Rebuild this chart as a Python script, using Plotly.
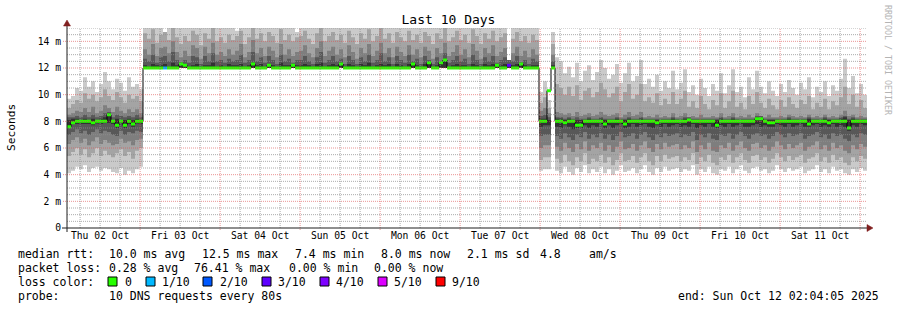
import pandas as pd
import plotly.graph_objects as go

# ---------------- data (ms), one value per ~72 min column ----------------
median_ms = [
    7.6, 7.9, 8.0, 8.0, 8.0, 8.0, 7.9, 8.0, 8.0, 8.0,
    8.5, 8.0, 7.7, 8.0, 7.7, 8.0, 7.8, 8.0, 8.0,
    12.0, 12.0, 12.0, 12.0, 12.0, 12.0, 12.0, 12.0, 12.0, 12.3,
    12.2, 12.0, 12.0, 12.0, 12.0, 12.0, 12.0, 12.0, 12.0, 12.0,
    12.0, 12.0, 12.0, 12.0, 12.0, 12.0, 12.0, 12.3, 12.0, 12.0,
    12.0, 12.2, 12.0, 12.0, 12.0, 12.0, 12.0, 12.2, 12.0, 12.0,
    12.0, 12.0, 12.0, 12.0, 12.0, 12.0, 12.0, 12.0, 12.0, 12.3,
    12.0, 12.0, 12.0, 12.0, 12.0, 12.0, 12.0, 12.0, 12.0, 12.0,
    12.0, 12.0, 12.0, 12.0, 12.0, 12.0, 12.0, 12.3, 12.0, 12.0,
    12.0, 12.4, 12.0, 12.0, 12.4, 12.6, 12.0, 12.0, 12.0, 12.0,
    12.0, 12.0, 12.0, 12.0, 12.0, 12.0, 12.0, 12.0, 12.2, 12.0,
    12.0, 12.2, 12.0, 12.0, 12.3, 12.0, 12.0, 12.0, 12.0,
    8.0, 8.0, 10.3, 12.0,
    8.0, 8.0, 7.9, 8.0, 8.0, 7.7, 7.7, 8.0, 8.0, 8.0,
    8.0, 8.0, 7.8, 8.0, 8.0, 8.0, 8.0, 7.8, 8.0, 8.0,
    8.0, 8.0, 8.0, 8.0, 8.0, 7.9, 8.0, 8.0, 8.0, 8.0,
    8.0, 8.0, 8.0, 8.1, 8.0, 8.0, 8.0, 8.0, 8.0, 8.0,
    7.7, 8.0, 8.0, 8.0, 8.0, 8.0, 8.0, 8.0, 8.0, 8.0,
    8.2, 8.2, 8.0, 7.9, 7.9, 8.0, 8.0, 8.0, 8.0, 8.0,
    8.0, 8.0, 8.0, 7.8, 8.0, 8.0, 8.0, 8.0, 7.9, 8.0,
    8.0, 8.0, 8.0, 7.5, 8.0, 8.0, 8.0, 8.0,
]

# lost pings per column (out of 10)
loss = [
    0, 0, 0, 0, 0, 0, 0, 0, 0, 0,
    0, 0, 0, 0, 0, 0, 0, 0, 0,
    0, 0, 0, 0, 0, 1, 0, 0, 0, 0,
    0, 0, 0, 0, 0, 0, 0, 0, 0, 0,
    0, 0, 0, 0, 0, 0, 0, 0, 0, 0,
    0, 0, 0, 0, 0, 0, 0, 0, 0, 0,
    0, 0, 0, 0, 0, 0, 0, 0, 0, 0,
    0, 0, 0, 0, 0, 0, 0, 0, 0, 0,
    0, 0, 0, 0, 0, 0, 0, 0, 0, 0,
    0, 0, 0, 0, 0, 0, 0, 0, 0, 0,
    0, 0, 0, 0, 0, 0, 0, 0, 0, 0,
    0, 3, 0, 0, 0, 0, 0, 0, 0,
    0, 0, 0, 0,
    0, 0, 0, 0, 0, 0, 0, 0, 0, 0,
    0, 0, 0, 0, 0, 0, 0, 0, 0, 0,
    0, 0, 0, 0, 0, 0, 0, 0, 0, 0,
    0, 0, 0, 0, 0, 0, 0, 0, 0, 0,
    0, 0, 0, 0, 0, 0, 0, 0, 0, 0,
    0, 0, 0, 0, 0, 0, 0, 0, 0, 0,
    0, 0, 0, 0, 0, 0, 0, 0, 0, 0,
    0, 0, 0, 0, 0, 0, 0, 0,
]

# sorted pings (ping01 = fastest ... ping10 = slowest)
ping10 = [
    9.7, 9.9, 10.5, 10.3, 11.3, 10.6, 11.0, 10.2, 10.8, 11.7,
    11.0, 10.4, 11.2, 10.9, 10.3, 11.3, 10.6, 10.8, 10.4,
    15.6, 15.3, 15.8, 15.2, 15.5, None, 15.4, 15.9, 15.3, 15.1,
    15.5, 15.2, 15.7, 15.4, 15.0, 15.6, 15.3, 15.8, 15.2, 15.4,
    15.1, 15.5, 15.3, 14.8, 15.6, 15.2, 15.4, 15.9, 15.3, 15.5,
    15.2, 15.6, 15.4, 15.1, 15.7, 15.3, 15.5, 15.2, 14.7, 15.4,
    15.6, 15.3, 15.1, 15.5, 15.8, 15.2, 15.4, 15.6, 15.3, 15.5,
    15.2, 15.7, 15.4, 15.1, 15.5, 15.3, 15.6, 15.2, 15.4, 15.8,
    15.3, 15.5, 15.1, 15.6, 15.4, 15.2, 15.7, 15.3, 15.5, 15.2,
    15.6, 15.4, 15.1, 15.5, 15.3, 15.8, 15.2, 15.4, 15.6, 15.3,
    15.5, 15.2, 15.7, 15.4, 15.1, 15.5, 15.3, 15.6, 15.2, 15.4,
    15.5, None, 15.3, 15.6, 15.2, 15.4, 15.1, 15.5, 15.3,
    10.2, 11.0, 9.6, 14.7,
    12.8, 12.5, 11.6, 12.1, 11.3, 12.4, 11.0, 11.8, 12.2, 11.1,
    11.7, 12.6, 12.0, 11.2, 11.5, 12.3, 10.9, 11.6, 12.4, 11.0,
    11.4, 12.6, 10.8, 11.2, 10.6, 11.5, 10.3, 11.0, 10.5, 11.8,
    10.4, 10.9, 11.9, 10.2, 10.7, 10.0, 11.2, 10.5, 9.9, 10.8,
    10.3, 11.6, 10.1, 10.7, 11.9, 10.2, 10.6, 9.8, 11.3, 10.4,
    11.8, 10.6, 10.1, 11.0, 10.3, 9.9, 10.8, 10.2, 11.1, 10.5,
    10.0, 10.9, 10.4, 11.3, 9.8, 10.6, 10.2, 11.0, 9.9, 10.7,
    10.3, 11.2, 12.7, 10.5, 11.4, 10.1, 10.8, 10.0,
]
ping09 = [
    9.0, 9.3, 9.6, 9.4, 10.1, 9.7, 10.0, 9.5, 9.8, 10.4,
    9.9, 9.6, 10.2, 9.8, 9.4, 10.0, 9.7, 9.9, 9.5,
    14.6, 14.2, 14.9, 13.9, 14.5, 14.7, 14.1, 15.1, 14.3, 13.8,
    14.4, 14.0, 14.8, 14.5, 13.7, 14.6, 14.2, 15.0, 14.0, 14.3,
    13.9, 14.5, 14.1, 14.4, 14.8, 13.8, 14.3, 15.2, 14.2, 14.6,
    14.0, 14.7, 14.4, 13.9, 14.9, 14.1, 14.5, 14.0, 14.3, 14.4,
    14.8, 14.2, 13.8, 14.6, 15.1, 14.0, 14.4, 14.7, 14.1, 14.5,
    13.9, 14.8, 14.3, 13.8, 14.6, 14.2, 14.9, 14.0, 14.4, 15.0,
    14.2, 14.6, 13.9, 14.7, 14.3, 14.0, 14.8, 14.1, 14.5, 13.9,
    14.7, 14.4, 13.8, 14.6, 14.2, 15.0, 14.0, 14.3, 14.8, 14.1,
    14.5, 13.9, 14.9, 14.4, 13.8, 14.6, 14.2, 14.8, 14.0, 14.3,
    14.6, None, 14.2, 14.7, 14.0, 14.4, 13.9, 14.5, 14.1,
    9.4, 9.8, 9.0, 13.8,
    10.8, 10.5, 10.0, 10.6, 9.9, 10.7, 9.6, 10.3, 10.5, 9.8,
    10.2, 10.9, 10.4, 9.8, 10.1, 10.6, 9.5, 10.2, 10.8, 9.7,
    10.0, 10.8, 9.5, 9.8, 9.4, 10.1, 9.2, 9.7, 9.3, 10.2,
    9.3, 9.7, 10.3, 9.1, 9.5, 9.0, 9.9, 9.3, 8.9, 9.6,
    9.2, 10.1, 9.0, 9.5, 10.3, 9.1, 9.4, 8.9, 9.9, 9.3,
    10.2, 9.4, 9.0, 9.7, 9.2, 8.9, 9.6, 9.1, 9.8, 9.3,
    9.0, 9.6, 9.3, 9.9, 8.9, 9.4, 9.1, 9.7, 8.9, 9.5,
    9.2, 9.8, 10.6, 9.3, 10.0, 9.1, 9.6, 9.0,
]
ping08 = [
    8.5, 8.6, 8.8, 8.7, 9.0, 8.7, 9.1, 8.6, 8.8, 9.2,
    9.0, 8.7, 9.1, 8.8, 8.6, 8.9, 8.7, 8.9, 8.6,
    13.4, 13.0, 13.8, 12.9, 13.5, 13.6, 13.1, 14.0, 13.2, 12.8,
    13.3, 12.9, 13.7, 13.5, 12.7, 13.6, 13.1, 13.9, 13.0, 13.2,
    12.9, 13.4, 13.0, 13.3, 13.8, 12.8, 13.2, 14.1, 13.1, 13.5,
    12.9, 13.6, 13.3, 12.8, 13.8, 13.0, 13.4, 12.9, 13.2, 13.3,
    13.7, 13.1, 12.8, 13.5, 14.0, 12.9, 13.3, 13.6, 13.0, 13.4,
    12.8, 13.7, 13.2, 12.7, 13.5, 13.1, 13.8, 12.9, 13.3, 13.9,
    13.1, 13.5, 12.8, 13.6, 13.2, 12.9, 13.7, 13.0, 13.4, 12.8,
    13.6, 13.3, 12.7, 13.5, 13.1, 13.9, 12.9, 13.2, 13.7, 13.0,
    13.4, 12.8, 13.8, 13.3, 12.7, 13.5, 13.1, 13.7, 12.9, 13.2,
    13.5, None, 13.1, 13.6, 12.9, 13.3, 12.8, 13.4, 13.0,
    8.8, 9.0, 8.6, 13.0,
    8.7, 8.6, 8.5, 8.6, 8.4, 8.7, 8.4, 8.5, 8.6, 8.4,
    8.5, 8.7, 8.5, 8.4, 8.5, 8.6, 8.3, 8.5, 8.7, 8.4,
    8.5, 8.7, 8.3, 8.4, 8.3, 8.5, 8.3, 8.4, 8.3, 8.6,
    8.3, 8.4, 8.6, 8.3, 8.4, 8.3, 8.5, 8.3, 8.3, 8.4,
    8.3, 8.6, 8.3, 8.4, 8.6, 8.3, 8.4, 8.3, 8.5, 8.3,
    8.6, 8.4, 8.3, 8.5, 8.3, 8.3, 8.4, 8.3, 8.5, 8.4,
    8.3, 8.4, 8.3, 8.5, 8.3, 8.4, 8.3, 8.5, 8.3, 8.4,
    8.3, 8.5, 8.8, 8.4, 8.5, 8.3, 8.4, 8.3,
]
ping07 = [
    8.3, 8.3, 8.4, 8.3, 8.5, 8.3, 8.5, 8.3, 8.4, 8.6,
    8.7, 8.3, 8.5, 8.4, 8.3, 8.4, 8.3, 8.5, 8.3,
    12.7, 12.5, 13.0, 12.4, 12.8, 12.9, 12.5, 13.2, 12.6, 12.4,
    12.6, 12.4, 12.9, 12.8, 12.3, 12.9, 12.5, 13.1, 12.5, 12.6,
    12.4, 12.7, 12.5, 12.6, 13.0, 12.4, 12.6, 13.2, 12.5, 12.8,
    12.4, 12.9, 12.6, 12.3, 13.0, 12.5, 12.7, 12.4, 12.6, 12.6,
    12.9, 12.5, 12.3, 12.8, 13.2, 12.4, 12.6, 12.9, 12.5, 12.7,
    12.3, 12.9, 12.6, 12.3, 12.8, 12.5, 13.0, 12.4, 12.6, 13.1,
    12.5, 12.8, 12.3, 12.9, 12.6, 12.4, 13.0, 12.5, 12.7, 12.3,
    12.9, 12.6, 12.3, 12.8, 12.5, 13.1, 12.4, 12.6, 12.9, 12.5,
    12.7, 12.3, 13.0, 12.6, 12.3, 12.8, 12.5, 12.9, 12.4, 12.6,
    12.8, 12.6, 12.5, 12.9, 12.4, 12.6, 12.3, 12.7, 12.5,
    8.4, 8.5, 8.3, 12.5,
    8.3, 8.3, 8.2, 8.3, 8.2, 8.3, 8.2, 8.2, 8.3, 8.2,
    8.2, 8.3, 8.2, 8.2, 8.2, 8.3, 8.2, 8.2, 8.3, 8.2,
    8.2, 8.3, 8.2, 8.2, 8.2, 8.2, 8.2, 8.2, 8.2, 8.3,
    8.2, 8.2, 8.3, 8.3, 8.2, 8.2, 8.2, 8.2, 8.2, 8.2,
    8.2, 8.3, 8.2, 8.2, 8.3, 8.2, 8.2, 8.2, 8.2, 8.2,
    8.4, 8.4, 8.2, 8.2, 8.2, 8.2, 8.2, 8.2, 8.3, 8.2,
    8.2, 8.2, 8.2, 8.3, 8.2, 8.2, 8.2, 8.3, 8.2, 8.2,
    8.2, 8.3, 8.4, 8.2, 8.3, 8.2, 8.2, 8.2,
]
ping06 = [
    8.1, 8.2, 8.2, 8.1, 8.2, 8.1, 8.2, 8.1, 8.2, 8.3,
    8.6, 8.1, 8.2, 8.1, 8.1, 8.2, 8.1, 8.2, 8.1,
    12.2, 12.1, 12.3, 12.2, 12.2, 12.3, 12.1, 12.4, 12.2, 12.4,
    12.3, 12.1, 12.2, 12.3, 12.1, 12.2, 12.2, 12.4, 12.1, 12.2,
    12.1, 12.3, 12.2, 12.2, 12.3, 12.1, 12.2, 12.4, 12.2, 12.3,
    12.1, 12.3, 12.2, 12.1, 12.4, 12.2, 12.2, 12.3, 12.2, 12.2,
    12.3, 12.2, 12.1, 12.3, 12.4, 12.1, 12.2, 12.3, 12.2, 12.4,
    12.1, 12.3, 12.2, 12.1, 12.3, 12.2, 12.4, 12.1, 12.2, 12.3,
    12.2, 12.3, 12.1, 12.3, 12.2, 12.1, 12.3, 12.4, 12.2, 12.1,
    12.3, 12.5, 12.1, 12.2, 12.5, 12.7, 12.1, 12.2, 12.3, 12.2,
    12.2, 12.1, 12.3, 12.2, 12.1, 12.3, 12.2, 12.3, 12.3, 12.2,
    12.3, 12.3, 12.2, 12.3, 12.4, 12.2, 12.1, 12.2, 12.2,
    8.2, 8.2, 8.1, 12.2,
    8.2, 8.2, 8.1, 8.2, 8.1, 8.1, 8.1, 8.1, 8.2, 8.1,
    8.1, 8.2, 8.1, 8.1, 8.1, 8.2, 8.1, 8.1, 8.2, 8.1,
    8.1, 8.2, 8.1, 8.1, 8.1, 8.1, 8.1, 8.1, 8.1, 8.2,
    8.1, 8.1, 8.2, 8.2, 8.1, 8.1, 8.1, 8.1, 8.1, 8.1,
    8.1, 8.2, 8.1, 8.1, 8.2, 8.1, 8.1, 8.1, 8.1, 8.1,
    8.3, 8.3, 8.1, 8.1, 8.1, 8.1, 8.1, 8.1, 8.2, 8.1,
    8.1, 8.1, 8.1, 8.2, 8.1, 8.1, 8.1, 8.2, 8.1, 8.1,
    8.1, 8.2, 8.3, 8.1, 8.2, 8.1, 8.1, 8.1,
]
ping05 = [
    7.6, 7.8, 7.85, 7.8, 7.85, 7.8, 7.7, 7.85, 7.8, 7.85,
    7.9, 7.8, 7.5, 7.85, 7.5, 7.8, 7.6, 7.85, 7.8,
    12.0, 12.0, 12.0, 12.0, 12.0, 12.0, 12.0, 12.0, 12.0, 12.0,
    12.0, 12.0, 12.0, 12.0, 12.0, 12.0, 12.0, 12.0, 12.0, 12.0,
    12.0, 12.0, 12.0, 12.0, 12.0, 12.0, 12.0, 12.0, 12.0, 12.0,
    12.0, 12.0, 12.0, 12.0, 12.0, 12.0, 12.0, 12.0, 12.0, 12.0,
    12.0, 12.0, 12.0, 12.0, 12.0, 12.0, 12.0, 12.0, 12.0, 12.0,
    12.0, 12.0, 12.0, 12.0, 12.0, 12.0, 12.0, 12.0, 12.0, 12.0,
    12.0, 12.0, 12.0, 12.0, 12.0, 12.0, 12.0, 12.0, 12.0, 12.0,
    12.0, 12.0, 12.0, 12.0, 12.0, 12.0, 12.0, 12.0, 12.0, 12.0,
    12.0, 12.0, 12.0, 12.0, 12.0, 12.0, 12.0, 12.0, 12.0, 12.0,
    12.0, 12.0, 12.0, 12.0, 12.0, 12.0, 12.0, 12.0, 12.0,
    7.6, 7.7, 7.7, 12.0,
    7.6, 7.5, 7.7, 7.6, 7.4, 7.5, 7.5, 7.7, 7.5, 7.7,
    7.6, 7.8, 7.5, 7.7, 7.5, 7.7, 7.8, 7.5, 7.6, 7.8,
    7.6, 7.7, 7.8, 7.6, 7.5, 7.7, 7.6, 7.8, 7.6, 7.7,
    7.8, 7.6, 7.7, 7.6, 7.8, 7.5, 7.7, 7.6, 7.8, 7.6,
    7.5, 7.7, 7.6, 7.8, 7.6, 7.7, 7.8, 7.6, 7.6, 7.7,
    7.8, 7.6, 7.7, 7.6, 7.6, 7.8, 7.7, 7.6, 7.8, 7.6,
    7.7, 7.8, 7.6, 7.6, 7.7, 7.8, 7.6, 7.7, 7.6, 7.8,
    7.6, 7.7, 7.6, 7.3, 7.7, 7.6, 7.8, 7.7,
]
ping04 = [
    7.0, 7.2, 7.4, 7.1, 7.3, 7.0, 7.2, 7.4, 7.1, 7.3,
    7.2, 7.0, 6.9, 7.3, 7.0, 7.2, 7.1, 7.3, 7.2,
    12.0, 12.0, 12.0, 12.0, 12.0, 12.0, 12.0, 12.0, 12.0, 12.0,
    12.0, 12.0, 12.0, 12.0, 12.0, 12.0, 12.0, 12.0, 12.0, 12.0,
    12.0, 12.0, 12.0, 12.0, 12.0, 12.0, 12.0, 12.0, 12.0, 12.0,
    12.0, 12.0, 12.0, 12.0, 12.0, 12.0, 12.0, 12.0, 12.0, 12.0,
    12.0, 12.0, 12.0, 12.0, 12.0, 12.0, 12.0, 12.0, 12.0, 12.0,
    12.0, 12.0, 12.0, 12.0, 12.0, 12.0, 12.0, 12.0, 12.0, 12.0,
    12.0, 12.0, 12.0, 12.0, 12.0, 12.0, 12.0, 12.0, 12.0, 12.0,
    12.0, 12.0, 12.0, 12.0, 12.0, 12.0, 12.0, 12.0, 12.0, 12.0,
    12.0, 12.0, 12.0, 12.0, 12.0, 12.0, 12.0, 12.0, 12.0, 12.0,
    12.0, 12.0, 12.0, 12.0, 12.0, 12.0, 12.0, 12.0, 12.0,
    6.9, 7.0, 7.0, 12.0,
    6.9, 6.7, 7.1, 6.8, 6.6, 7.0, 6.8, 7.2, 6.7, 7.0,
    6.8, 7.1, 6.7, 7.0, 6.6, 6.9, 7.2, 6.8, 6.9, 7.1,
    6.7, 7.0, 7.2, 6.8, 6.6, 7.0, 6.8, 7.1, 6.9, 7.0,
    7.1, 6.8, 7.0, 6.9, 7.2, 6.6, 7.0, 6.8, 7.1, 6.7,
    6.6, 7.0, 6.9, 7.1, 6.7, 7.0, 7.2, 6.9, 6.7, 7.0,
    7.1, 6.9, 7.0, 6.7, 6.9, 7.2, 7.0, 6.8, 7.1, 6.9,
    7.0, 7.1, 6.7, 6.9, 7.0, 7.2, 6.8, 7.0, 6.7, 7.1,
    6.9, 7.0, 6.7, 6.5, 7.0, 6.8, 7.1, 7.0,
]
ping03 = [
    6.3, 6.6, 6.8, 6.4, 6.7, 6.2, 6.5, 6.8, 6.3, 6.6,
    6.4, 6.2, 6.3, 6.7, 6.4, 6.5, 6.2, 6.6, 6.7,
    12.0, 12.0, 12.0, 12.0, 12.0, 12.0, 12.0, 12.0, 12.0, 12.0,
    12.0, 12.0, 12.0, 12.0, 12.0, 12.0, 12.0, 12.0, 12.0, 12.0,
    12.0, 12.0, 12.0, 12.0, 12.0, 12.0, 12.0, 12.0, 12.0, 12.0,
    12.0, 12.0, 12.0, 12.0, 12.0, 12.0, 12.0, 12.0, 12.0, 12.0,
    12.0, 12.0, 12.0, 12.0, 12.0, 12.0, 12.0, 12.0, 12.0, 12.0,
    12.0, 12.0, 12.0, 12.0, 12.0, 12.0, 12.0, 12.0, 12.0, 12.0,
    12.0, 12.0, 12.0, 12.0, 12.0, 12.0, 12.0, 12.0, 12.0, 12.0,
    12.0, 12.0, 12.0, 12.0, 12.0, 12.0, 12.0, 12.0, 12.0, 12.0,
    12.0, 12.0, 12.0, 12.0, 12.0, 12.0, 12.0, 12.0, 12.0, 12.0,
    12.0, 12.0, 12.0, 12.0, 12.0, 12.0, 12.0, 12.0, 12.0,
    6.0, 6.2, 6.2, 12.0,
    6.1, 5.8, 6.4, 6.0, 5.7, 6.3, 5.9, 6.5, 5.8, 6.2,
    6.0, 6.4, 5.8, 6.2, 5.7, 6.1, 6.5, 5.9, 6.0, 6.3,
    5.8, 6.2, 6.5, 6.0, 5.7, 6.3, 5.9, 6.4, 6.1, 6.2,
    6.3, 5.9, 6.2, 6.0, 6.5, 5.7, 6.2, 5.9, 6.4, 5.8,
    5.7, 6.2, 6.0, 6.4, 5.8, 6.2, 6.5, 6.0, 5.8, 6.3,
    6.4, 6.0, 6.2, 5.8, 6.1, 6.5, 6.2, 5.9, 6.3, 6.0,
    6.2, 6.4, 5.8, 6.1, 6.2, 6.5, 5.9, 6.2, 5.8, 6.4,
    6.0, 6.2, 5.8, 5.6, 6.2, 5.9, 6.3, 6.1,
]
ping02 = [
    5.4, 5.7, 6.0, 5.5, 5.9, 5.3, 5.6, 6.0, 5.4, 5.8,
    5.5, 5.3, 5.6, 5.9, 5.4, 5.7, 5.2, 5.8, 6.0,
    12.0, 12.0, 12.0, 12.0, 12.0, 12.0, 12.0, 12.0, 12.0, 12.0,
    12.0, 12.0, 12.0, 12.0, 12.0, 12.0, 12.0, 12.0, 12.0, 12.0,
    12.0, 12.0, 12.0, 12.0, 12.0, 12.0, 12.0, 12.0, 12.0, 12.0,
    12.0, 12.0, 12.0, 12.0, 12.0, 12.0, 12.0, 12.0, 12.0, 12.0,
    12.0, 12.0, 12.0, 12.0, 12.0, 12.0, 12.0, 12.0, 12.0, 12.0,
    12.0, 12.0, 12.0, 12.0, 12.0, 12.0, 12.0, 12.0, 12.0, 12.0,
    12.0, 12.0, 12.0, 12.0, 12.0, 12.0, 12.0, 12.0, 12.0, 12.0,
    12.0, 12.0, 12.0, 12.0, 12.0, 12.0, 12.0, 12.0, 12.0, 12.0,
    12.0, 12.0, 12.0, 12.0, 12.0, 12.0, 12.0, 12.0, 12.0, 12.0,
    12.0, 12.0, 12.0, 12.0, 12.0, 12.0, 12.0, 12.0, 12.0,
    5.1, 5.3, 5.3, 12.0,
    5.2, 4.9, 5.5, 5.0, 4.7, 5.3, 5.0, 5.6, 4.8, 5.2,
    5.0, 5.5, 4.9, 5.3, 4.7, 5.1, 5.6, 5.0, 5.1, 5.4,
    4.9, 5.3, 5.6, 5.0, 4.7, 5.4, 5.0, 5.5, 5.2, 5.3,
    5.4, 5.0, 5.3, 5.1, 5.6, 4.8, 5.3, 5.0, 5.5, 4.9,
    4.7, 5.3, 5.1, 5.5, 4.9, 5.3, 5.6, 5.1, 4.9, 5.4,
    5.5, 5.1, 5.3, 4.9, 5.2, 5.6, 5.3, 5.0, 5.4, 5.1,
    5.3, 5.5, 4.9, 5.2, 5.3, 5.6, 5.0, 5.3, 4.9, 5.5,
    5.1, 5.3, 4.9, 4.7, 5.3, 5.0, 5.4, 5.2,
]
ping01 = [
    4.1, 4.3, 4.6, 4.4, 4.7, 4.2, 4.5, 4.6, 4.3, 4.5,
    4.4, 4.2, 4.1, 4.5, 4.0, 4.3, 4.1, 4.4, 4.6,
    12.0, 12.0, 12.0, 12.0, 12.0, 12.0, 12.0, 12.0, 12.0, 12.0,
    12.0, 12.0, 12.0, 12.0, 12.0, 12.0, 12.0, 12.0, 12.0, 12.0,
    12.0, 12.0, 12.0, 12.0, 12.0, 12.0, 12.0, 12.0, 12.0, 12.0,
    12.0, 12.0, 12.0, 12.0, 12.0, 12.0, 12.0, 12.0, 12.0, 12.0,
    12.0, 12.0, 12.0, 12.0, 12.0, 12.0, 12.0, 12.0, 12.0, 12.0,
    12.0, 12.0, 12.0, 12.0, 12.0, 12.0, 12.0, 12.0, 12.0, 12.0,
    12.0, 12.0, 12.0, 12.0, 12.0, 12.0, 12.0, 12.0, 12.0, 12.0,
    12.0, 12.0, 12.0, 12.0, 12.0, 12.0, 12.0, 12.0, 12.0, 12.0,
    12.0, 12.0, 12.0, 12.0, 12.0, 12.0, 12.0, 12.0, 12.0, 12.0,
    12.0, 12.0, 12.0, 12.0, 12.0, 12.0, 12.0, 12.0, 12.0,
    4.3, 4.4, 4.4, 12.0,
    4.3, 4.1, 4.6, 4.2, 4.0, 4.5, 4.2, 4.7, 4.1, 4.4,
    4.2, 4.6, 4.1, 4.4, 4.0, 4.3, 4.7, 4.2, 4.3, 4.5,
    4.1, 4.4, 4.7, 4.2, 4.0, 4.5, 4.2, 4.6, 4.3, 4.4,
    4.5, 4.2, 4.4, 4.3, 4.7, 4.0, 4.4, 4.2, 4.6, 4.1,
    4.0, 4.4, 4.3, 4.6, 4.1, 4.4, 4.7, 4.3, 4.1, 4.5,
    4.6, 4.3, 4.4, 4.1, 4.3, 4.7, 4.4, 4.2, 4.5, 4.3,
    4.4, 4.6, 4.1, 4.3, 4.4, 4.7, 4.2, 4.4, 4.1, 4.6,
    4.3, 4.4, 4.1, 4.0, 4.4, 4.2, 4.5, 4.3,
]

y_tick_vals = [0, 2, 4, 6, 8, 10, 12, 14]
y_tick_text = ["0", "2 m", "4 m", "6 m", "8 m", "10 m", "12 m", "14 m"]
day_labels = ["Thu 02 Oct", "Fri 03 Oct", "Sat 04 Oct", "Sun 05 Oct", "Mon 06 Oct",
              "Tue 07 Oct", "Wed 08 Oct", "Thu 09 Oct", "Fri 10 Oct", "Sat 11 Oct"]
loss_levels = ["0", "1/10", "2/10", "3/10", "4/10", "5/10", "9/10"]
loss_colors = ["#26ff00", "#00b8ff", "#0059ff", "#5e00ff", "#7e00ff", "#dd00ff", "#ff0000"]
loss_value_to_level = {0: 0, 1: 1, 2: 2, 3: 3, 4: 4, 5: 5, 9: 6}

# ---------------- geometry ----------------
W, H = 897, 310
L, R, T, B = 67, 867, 28, 228

def fx(p):
    return (p - L) / (R - L)

def fy(p):
    return (B - p) / (B - T)

start = pd.Timestamp("2025-10-02 02:04:05")
end = pd.Timestamp("2025-10-12 02:04:05")
n = len(median_ms)
for arr in (loss, ping01, ping02, ping03, ping04, ping05, ping06, ping07, ping08, ping09, ping10):
    assert len(arr) == n, len(arr)
step = (end - start) / n
edges = [start + step * i for i in range(n + 1)]


def step_polygons(lo, hi, keep):
    """Stepped band between lo and hi, one closed polygon per run of kept columns."""
    xs, ys = [], []
    i = 0
    while i < n:
        if not keep[i]:
            i += 1
            continue
        j = i
        while j + 1 < n and keep[j + 1]:
            j += 1
        run = range(i, j + 1)
        for k in run:
            xs += [edges[k], edges[k + 1]]
            ys += [hi[k], hi[k]]
        for k in reversed(run):
            xs += [edges[k + 1], edges[k]]
            ys += [lo[k], lo[k]]
        xs += [edges[i], None]
        ys += [hi[i], None]
        i = j + 1
    return xs, ys


fig = go.Figure()

pings = [ping01, ping02, ping03, ping04, ping05, ping06, ping07, ping08, ping09, ping10]
shades = ["#cacaca", "#a4a4a4", "#7e7e7e", "#585858", "#323232"]
for k in range(5):
    lo, hi = pings[k], pings[9 - k]
    keep = [a is not None and b is not None for a, b in zip(lo, hi)]
    xs, ys = step_polygons(lo, hi, keep)
    fig.add_trace(go.Scatter(x=xs, y=ys, mode="lines", fill="toself", fillcolor=shades[k],
                             line=dict(width=0, color=shades[k]), hoverinfo="skip",
                             showlegend=False))

fig.add_trace(go.Scatter(x=edges, y=median_ms + [median_ms[-1]], mode="lines",
                         line=dict(color="#000000", width=1, shape="hv"),
                         hoverinfo="skip", showlegend=False))

band = 0.22
band_lo = [m - band / 2 for m in median_ms]
band_hi = [m + band / 2 for m in median_ms]
for lvl, col in enumerate(loss_colors):
    keep = [loss_value_to_level[v] == lvl for v in loss]
    if not any(keep):
        continue
    xs, ys = step_polygons(band_lo, band_hi, keep)
    fig.add_trace(go.Scatter(x=xs, y=ys, mode="lines", fill="toself", fillcolor=col,
                             line=dict(width=0, color=col), hoverinfo="skip", showlegend=False))

# ---------------- grid (drawn over the graph like rrdtool) ----------------
minor = dict(color="rgba(143,143,143,0.75)", width=1, dash="1px,1px")
major = dict(color="rgba(222,79,79,0.6)", width=1, dash="1px,1px")
shapes = []
for i in range(1, 31):
    v = i * 0.5
    if v % 2 == 0:
        continue
    shapes.append(dict(type="line", xref="paper", yref="y", x0=0, x1=1, y0=v, y1=v,
                       line=minor, layer="above"))
for v in y_tick_vals[1:]:
    shapes.append(dict(type="line", xref="paper", yref="y", x0=fx(63), x1=1, y0=v, y1=v,
                       line=major, layer="above"))
t = pd.Timestamp("2025-10-02 06:00:00")
while t < end:
    if t.hour == 0:
        shapes.append(dict(type="line", xref="x", yref="paper", x0=t, x1=t, y0=fy(230), y1=1,
                           line=major, layer="above"))
    else:
        shapes.append(dict(type="line", xref="x", yref="paper", x0=t, x1=t, y0=0, y1=1,
                           line=minor, layer="above"))
    t += pd.Timedelta(hours=6)

axis_col = "rgb(31,31,31)"
arrow_col = "rgb(128,31,31)"
shapes.append(dict(type="line", xref="paper", yref="paper", x0=fx(62), x1=fx(868), y0=0, y1=0,
                   line=dict(color=axis_col, width=1), layer="above"))
shapes.append(dict(type="line", xref="paper", yref="paper", x0=0, x1=0, y0=fy(232), y1=fy(24),
                   line=dict(color=axis_col, width=1), layer="above"))
shapes.append(dict(type="path", xref="paper", yref="paper",
                   path=f"M {fx(867)} {fy(224.5)} L {fx(873)} {fy(228)} L {fx(867)} {fy(231.5)} Z",
                   fillcolor=arrow_col, line=dict(color=arrow_col, width=0.5), layer="above"))
shapes.append(dict(type="path", xref="paper", yref="paper",
                   path=f"M {fx(63.5)} {fy(26)} L {fx(67)} {fy(20)} L {fx(70.5)} {fy(26)} Z",
                   fillcolor=arrow_col, line=dict(color=arrow_col, width=0.5), layer="above"))

# loss colour swatches
swatch_x = [108, 146, 203, 262, 320, 378, 436]
for sx, col in zip(swatch_x, loss_colors):
    shapes.append(dict(type="rect", xref="paper", yref="paper",
                       x0=fx(sx), x1=fx(sx + 9), y0=fy(286), y1=fy(277),
                       fillcolor=col, line=dict(color="#000000", width=1), layer="above"))

# ---------------- texts ----------------
mono = "DejaVu Sans Mono"
ann = []

def txt(x, y, s, size=11.5, xanchor="left", color="#000000", angle=0):
    ann.append(dict(x=fx(x), y=fy(y), xref="paper", yref="paper", text=s, showarrow=False,
                    xanchor=xanchor, yanchor="middle", textangle=angle,
                    font=dict(family=mono, size=size, color=color)))

row1 = [(16, "median rtt:"), (107, "10.0 ms avg"), (200, "12.5 ms max"), (293, "7.4 ms min"),
        (379, "8.0 ms now"), (465, "2.1 ms sd"), (538, "4.8"), (587, "am/s")]
row2 = [(16, "packet loss:"), (107, "0.28 % avg"), (192, "76.41 % max"), (287, "0.00 % min"),
        (372, "0.00 % now")]
row3 = [(16, "loss color:")] + list(zip([123, 160, 218, 276, 334, 392, 450], loss_levels))
row4 = [(16, "probe:"), (107, "10 DNS requests every 80s")]
for yy, row in ((254, row1), (268, row2), (282, row3), (296, row4)):
    for xx, s in row:
        txt(xx, yy, s)
txt(881, 296, "end: Sun Oct 12 02:04:05 2025", xanchor="right")
txt(11, 127, "Seconds", size=11.2, xanchor="center", angle=-90)
txt(888, 60, "RRDTOOL / TOBI OETIKER", size=8.3, xanchor="center", color="#b4b4b4", angle=90)

noon = [pd.Timestamp("2025-10-02 12:00") + pd.Timedelta(days=d) for d in range(len(day_labels))]

fig.update_layout(
    width=W, height=H,
    margin=dict(l=L, r=W - R, t=T, b=H - B, pad=0),
    paper_bgcolor="#ffffff", plot_bgcolor="#ffffff",
    showlegend=False,
    font=dict(family=mono, color="#000000"),
    title=dict(text="Last 10 Days", x=0.5, xref="container", y=1 - 19 / H, yref="container",
               xanchor="center", yanchor="middle", font=dict(family=mono, size=13, color="#000000")),
    xaxis=dict(type="date", range=[start, end], showgrid=False, zeroline=False, showline=False,
               tickmode="array", tickvals=noon, ticktext=day_labels, ticks="",
               tickfont=dict(family=mono, size=9.7, color="#000000")),
    yaxis=dict(range=[0, 15], showgrid=False, zeroline=False, showline=False,
               tickmode="array", tickvals=y_tick_vals, ticktext=y_tick_text, ticks="",
               ticklabelstandoff=5,
               tickfont=dict(family=mono, size=9.7, color="#000000")),
    shapes=shapes, annotations=ann,
)

fig.write_html("out.html")
